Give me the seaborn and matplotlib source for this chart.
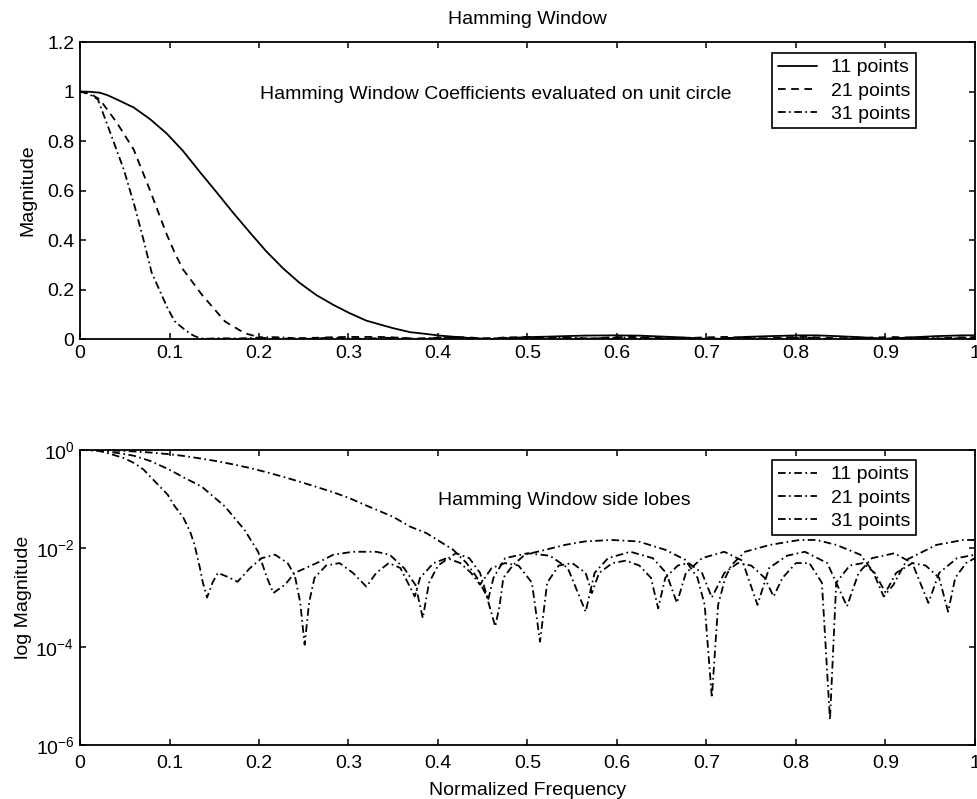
import matplotlib
matplotlib.use("Agg")
import matplotlib.pyplot as plt
import numpy as np
import pandas as pd
import seaborn as sns
from matplotlib.ticker import NullLocator, LogFormatterMathtext

# Frequency response of Hamming windows, normalized frequency (1 = Nyquist),
# magnitude stored as log10 of the normalized magnitude.
freq_11 = [0, 0.011, 0.022, 0.031, 0.041, 0.06, 0.078, 0.097, 0.115, 0.134, 0.152,
           0.171, 0.19, 0.208, 0.227, 0.245, 0.264, 0.283, 0.301, 0.32, 0.35, 0.369,
           0.387, 0.402, 0.417, 0.432, 0.443, 0.454, 0.464, 0.469, 0.473, 0.484,
           0.497, 0.52, 0.542, 0.564, 0.594, 0.624, 0.654, 0.676, 0.69, 0.698,
           0.706, 0.713, 0.721, 0.728, 0.743, 0.771, 0.804, 0.823, 0.845, 0.872,
           0.886, 0.898, 0.909, 0.924, 0.957, 0.987, 1.0]
logmag_11 = [0, -0.0005, -0.002, -0.0066, -0.014, -0.029, -0.051, -0.081, -0.119,
             -0.171, -0.225, -0.292, -0.367, -0.45, -0.545, -0.642, -0.75, -0.86,
             -0.979, -1.13, -1.36, -1.56, -1.69, -1.86, -2.03, -2.3, -2.58, -2.95,
             -3.59, -3.15, -2.6, -2.34, -2.13, -2.03, -1.93, -1.86, -1.83, -1.86,
             -2.03, -2.23, -2.6, -3.15, -5.04, -3.15, -2.6, -2.34, -2.07, -1.93,
             -1.83, -1.83, -1.93, -2.13, -2.47, -2.98, -2.74, -2.23, -1.93, -1.83,
             -1.83]

freq_21 = [0, 0.011, 0.022, 0.041, 0.06, 0.078, 0.097, 0.106, 0.115, 0.136, 0.162,
           0.184, 0.199, 0.209, 0.216, 0.229, 0.24, 0.268, 0.283, 0.305, 0.331,
           0.346, 0.362, 0.375, 0.383, 0.39, 0.4, 0.42, 0.435, 0.447, 0.456, 0.462,
           0.475, 0.5, 0.525, 0.545, 0.565, 0.575, 0.59, 0.615, 0.64, 0.655, 0.667,
           0.677, 0.695, 0.72, 0.74, 0.757, 0.77, 0.79, 0.81, 0.835, 0.857, 0.87,
           0.885, 0.91, 0.93, 0.948, 0.96, 0.98, 1.0]
logmag_21 = [0, -0.0035, -0.014, -0.058, -0.116, -0.22, -0.375, -0.46, -0.55,
             -0.745, -1.15, -1.63, -2.07, -2.6, -2.91, -2.74, -2.5, -2.27, -2.13,
             -2.07, -2.07, -2.13, -2.4, -2.75, -3.42, -2.7, -2.35, -2.1, -2.2, -2.5,
             -3.05, -2.6, -2.2, -2.1, -2.15, -2.4, -3.29, -2.5, -2.2, -2.07, -2.2,
             -2.5, -3.11, -2.5, -2.2, -2.07, -2.25, -3.15, -2.4, -2.15, -2.07, -2.3,
             -3.18, -2.5, -2.2, -2.1, -2.3, -3.11, -2.5, -2.2, -2.13]

freq_31 = [0, 0.01, 0.02, 0.034, 0.049, 0.061, 0.071, 0.08, 0.098, 0.106, 0.115,
           0.123, 0.128, 0.134, 0.137, 0.142, 0.148, 0.154, 0.165, 0.176, 0.19,
           0.203, 0.218, 0.232, 0.24, 0.246, 0.251, 0.256, 0.262, 0.275, 0.29,
           0.305, 0.32, 0.331, 0.345, 0.358, 0.374, 0.38, 0.395, 0.41, 0.425,
           0.437, 0.447, 0.46, 0.475, 0.49, 0.505, 0.514, 0.522, 0.535, 0.55,
           0.565, 0.572, 0.58, 0.595, 0.61, 0.625, 0.638, 0.646, 0.654, 0.668,
           0.68, 0.695, 0.706, 0.72, 0.735, 0.75, 0.765, 0.775, 0.785, 0.8, 0.815,
           0.829, 0.838, 0.845, 0.86, 0.875, 0.888, 0.9, 0.912, 0.93, 0.945, 0.96,
           0.97, 0.978, 0.99, 1.0]
logmag_31 = [0, -0.0044, -0.014, -0.08, -0.165, -0.27, -0.398, -0.57, -0.91, -1.15,
             -1.36, -1.66, -1.93, -2.4, -2.68, -3.0, -2.7, -2.5, -2.58, -2.68, -2.4,
             -2.2, -2.13, -2.3, -2.55, -3.1, -3.96, -3.1, -2.6, -2.35, -2.3, -2.5,
             -2.78, -2.5, -2.3, -2.4, -2.98, -2.6, -2.3, -2.2, -2.3, -2.5, -2.74,
             -2.4, -2.3, -2.35, -2.7, -3.9, -2.7, -2.35, -2.3, -2.5, -2.91, -2.5,
             -2.3, -2.25, -2.35, -2.6, -3.22, -2.6, -2.35, -2.3, -2.5, -3.0, -2.5,
             -2.3, -2.35, -2.6, -2.98, -2.6, -2.3, -2.3, -2.7, -5.49, -2.7, -2.35,
             -2.3, -2.5, -2.9, -2.5, -2.3, -2.35, -2.6, -3.29, -2.6, -2.3, -2.2]

series_labels = ["11 points", "21 points", "31 points"]
x_ticks = [0, 0.1, 0.2, 0.3, 0.4, 0.5, 0.6, 0.7, 0.8, 0.9, 1]
x_tick_labels = ["0", "0.1", "0.2", "0.3", "0.4", "0.5", "0.6", "0.7", "0.8", "0.9", "1"]
lin_ticks = [0, 0.2, 0.4, 0.6, 0.8, 1.0, 1.2]
lin_tick_labels = ["0", "0.2", "0.4", "0.6", "0.8", "1", "1.2"]
log_ticks = [1e-6, 1e-4, 1e-2, 1]

frames = []
for lab, f, lm in zip(series_labels, [freq_11, freq_21, freq_31],
                      [logmag_11, logmag_21, logmag_31]):
    frames.append(pd.DataFrame({"freq": f, "mag": np.power(10.0, lm), "window": lab}))
resp = pd.concat(frames, ignore_index=True)

FS = 14

sns.set_theme(style="ticks")
plt.rcParams.update({
    "font.family": ["Liberation Sans", "DejaVu Sans"],
    "font.size": FS,
    "axes.labelsize": FS,
    "axes.titlesize": FS,
    "legend.fontsize": FS,
    "axes.linewidth": 1.3,
    "axes.edgecolor": "black",
    "xtick.direction": "in",
    "ytick.direction": "in",
    "xtick.top": True,
    "ytick.right": True,
    "xtick.major.size": 4,
    "ytick.major.size": 4,
    "xtick.major.width": 1.1,
    "ytick.major.width": 1.1,
    "xtick.color": "black",
    "ytick.color": "black",
    "xtick.labelsize": FS,
    "ytick.labelsize": FS,
    "lines.scale_dashes": False,
    "text.color": "black",
    "axes.labelcolor": "black",
})

solid = "-"
dashed = (0, (5.5, 4.0))
dashdot = (0, (5.5, 2.5, 1.2, 2.5))
top_styles = [solid, dashed, dashdot]

legend_kw = dict(loc="upper right", fancybox=False, edgecolor="black", framealpha=1,
                 handlelength=2.0, handletextpad=0.7, labelspacing=0.28,
                 borderpad=0.3, borderaxespad=0.0, fontsize=FS)

fig = plt.figure(figsize=(9.77, 7.99), dpi=100)
ax1 = fig.add_axes([0.0819, 0.5757, 0.916, 0.3717])
ax2 = fig.add_axes([0.0819, 0.0676, 0.916, 0.3692])

for lab, ls in zip(series_labels, top_styles):
    sub = resp[resp["window"] == lab]
    sns.lineplot(data=sub, x="freq", y="mag", ax=ax1, color="black", lw=1.3,
                 linestyle=ls, label=lab, sort=False, estimator=None)

ax1.set_xlim(0, 1)
ax1.set_ylim(0, 1.2)
ax1.set_xticks(x_ticks)
ax1.set_xticklabels(x_tick_labels)
ax1.set_yticks(lin_ticks)
ax1.set_yticklabels(lin_tick_labels)
ax1.set_xlabel("")
ax1.set_ylabel("Magnitude", fontsize=FS)
ax1.yaxis.set_label_coords(-0.049, 0.5)
ax1.set_title("Hamming Window", fontsize=FS, pad=13)
ax1.text(0.201, 0.97, "Hamming Window Coefficients evaluated on unit circle",
         ha="left", va="baseline", fontsize=FS)
leg1 = ax1.legend(bbox_to_anchor=(0.934, 0.963), **legend_kw)
leg1.get_frame().set_linewidth(1.2)

ax2.set_yscale("log")
for lab in series_labels:
    sub = resp[resp["window"] == lab]
    sns.lineplot(data=sub, x="freq", y="mag", ax=ax2, color="black", lw=1.3,
                 linestyle=dashdot, label=lab, sort=False, estimator=None)

ax2.set_xlim(0, 1)
ax2.set_ylim(1e-6, 1)
ax2.set_xticks(x_ticks)
ax2.set_xticklabels(x_tick_labels)
ax2.set_yticks(log_ticks)
ax2.yaxis.set_major_formatter(LogFormatterMathtext())
ax2.yaxis.set_minor_locator(NullLocator())
ax2.set_xlabel("Normalized Frequency", fontsize=FS)
ax2.xaxis.set_label_coords(0.5, -0.125)
ax2.set_ylabel("log Magnitude", fontsize=FS)
ax2.yaxis.set_label_coords(-0.054, 0.5)
ax2.text(0.4, 0.0762, "Hamming Window side lobes", ha="left", va="baseline", fontsize=FS)
leg2 = ax2.legend(bbox_to_anchor=(0.934, 0.966), **legend_kw)
leg2.get_frame().set_linewidth(1.2)

for ax in (ax1, ax2):
    ax.tick_params(which="both", top=True, right=True, pad=4)
    for sp in ax.spines.values():
        sp.set_visible(True)
ax2.tick_params(axis="x", pad=7)

fig.savefig("out.png", dpi=100)
